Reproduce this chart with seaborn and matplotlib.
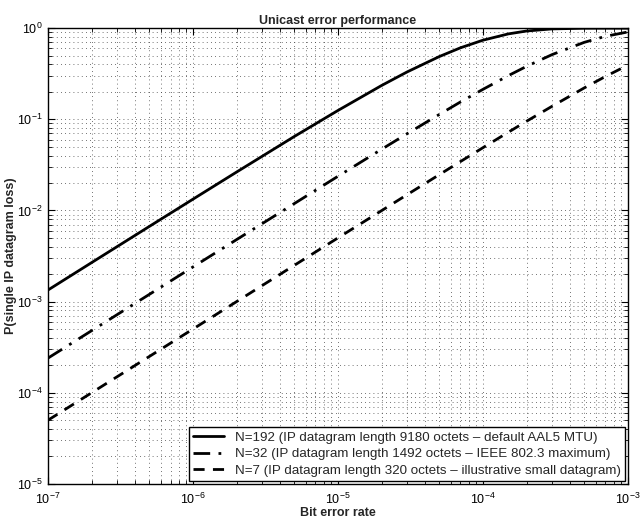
import pandas as pd
import seaborn as sns
import matplotlib.pyplot as plt

# bit error rate samples
ber = [1e-7, 2e-7, 5e-7, 1e-6, 2e-6, 5e-6, 1e-5, 2e-5, 3e-5, 5e-5, 7e-5,
       1e-4, 1.5e-4, 2e-4, 3e-4, 5e-4, 7e-4, 1e-3]

# loss probability
p_n192 = [1.34e-3, 2.68e-3, 6.68e-3, 1.33e-2, 2.64e-2, 6.48e-2, 0.125, 0.235, 0.331,
          0.488, 0.609, 0.738, 0.866, 0.931, 0.982, 0.9988, 0.9999, 1.0]
p_n32 = [2.4e-4, 4.8e-4, 1.2e-3, 2.4e-3, 4.79e-3, 1.19e-2, 2.37e-2, 4.69e-2, 6.95e-2,
         0.113, 0.155, 0.213, 0.302, 0.381, 0.513, 0.699, 0.814, 0.909]
p_n7 = [5.0e-5, 1.0e-4, 2.5e-4, 5.0e-4, 1.0e-3, 2.5e-3, 5.0e-3, 9.95e-3, 1.49e-2,
        2.47e-2, 3.44e-2, 4.88e-2, 7.23e-2, 9.52e-2, 0.139, 0.221, 0.295, 0.393]

labels = ['N=192 (IP datagram length 9180 octets \u2013 default AAL5 MTU)',
          'N=32 (IP datagram length 1492 octets \u2013 IEEE 802.3 maximum)',
          'N=7 (IP datagram length 320 octets \u2013 illustrative small datagram)']

sns.set_style('ticks')
plt.rcParams['font.family'] = ['Liberation Sans', 'DejaVu Sans']
plt.rcParams['xtick.direction'] = 'in'
plt.rcParams['ytick.direction'] = 'in'

fig = plt.figure(figsize=(6.4, 5.22), dpi=100)
ax = fig.add_axes([0.075, 0.073, 0.906, 0.873])

sns.lineplot(x=ber, y=p_n192, ax=ax, color='black', lw=2, linestyle='-', label=labels[0])
sns.lineplot(x=ber, y=p_n32, ax=ax, color='black', lw=2, label=labels[1]).lines[-1].set_dashes([6, 3, 1, 3])
sns.lineplot(x=ber, y=p_n7, ax=ax, color='black', lw=2, label=labels[2]).lines[-1].set_dashes([4, 3])

ax.set_xscale('log')
ax.set_yscale('log')
ax.set_xlim(1e-7, 1e-3)
ax.set_ylim(1e-5, 1)

# matlab style sparse dotted grid
ax.grid(True, which='both', color='#444444', linestyle=(0, (1, 4)), linewidth=0.6)
ax.tick_params(which='both', top=True, right=True, labelsize=9, colors='black')
ax.tick_params(which='major', length=5)
ax.tick_params(which='minor', length=3)
ax.tick_params(axis='x', which='major', pad=6)
ax.tick_params(axis='y', which='major', pad=4)
for s in ax.spines.values():
    s.set_linewidth(1.0)
    s.set_color('black')

ax.set_title('Unicast error performance', fontsize=9, fontweight='bold', pad=3)
ax.set_xlabel('Bit error rate', fontsize=9, fontweight='bold', labelpad=0)
ax.set_ylabel('P(single IP datagram loss)', fontsize=9, fontweight='bold', labelpad=0)

leg = ax.legend(loc='lower right', fontsize=9.6, frameon=True, fancybox=False,
                borderaxespad=0.2, handlelength=2.3, labelspacing=0.3, borderpad=0.35)
leg.get_frame().set_edgecolor('black')
leg.get_frame().set_linewidth(1.0)
leg.get_frame().set_alpha(1)

plt.savefig('out.png', dpi=100)
